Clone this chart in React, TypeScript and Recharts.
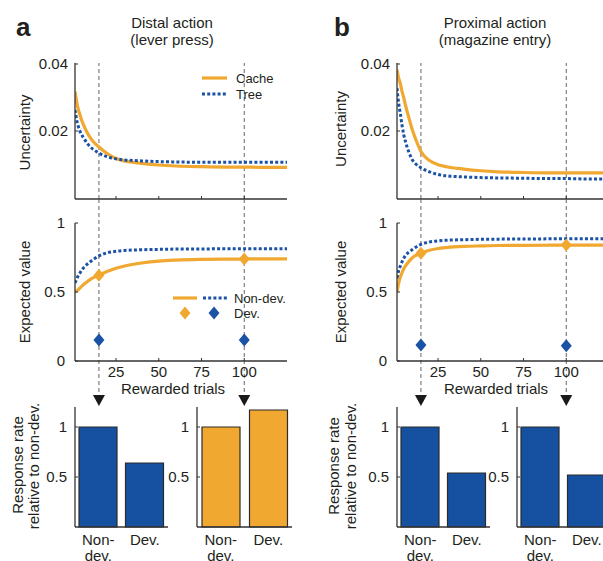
import React from "react";
import {
  Bar,
  BarChart,
  Cell,
  ComposedChart,
  Legend,
  Line,
  ReferenceLine,
  Scatter,
  XAxis,
  YAxis,
} from "recharts";

const ORANGE = "#f0a830";
const BLUE = "#1b52a6";
const BAR_BLUE = "#1650a0";
const INK = "#231f20";
const AXIS = "#333333";
const GUIDE = "#555555";
const FONT = '"Liberation Sans", Arial, Helvetica, sans-serif';

const trials = [1, 2, 3, 4, 5, 6, 8, 10, 12, 15, 20, 25, 30, 40, 50, 60, 75, 90, 100, 110, 125];
const xTicks = [25, 50, 75, 100];
const probeTrials = [15, 100];

// uncertainty
const distalCacheUnc = [0.0316, 0.0285, 0.0262, 0.0246, 0.023, 0.0218, 0.0196, 0.018, 0.0167, 0.0153, 0.0133, 0.0119, 0.0112, 0.0105, 0.01, 0.0097, 0.0095, 0.0094, 0.0094, 0.0093, 0.0093];
const distalTreeUnc = [0.0262, 0.0232, 0.0212, 0.0198, 0.0188, 0.018, 0.0165, 0.0153, 0.0145, 0.0135, 0.0124, 0.0118, 0.0115, 0.0112, 0.011, 0.0109, 0.0108, 0.0108, 0.0108, 0.0108, 0.0108];
const proximalCacheUnc = [0.038, 0.0355, 0.0338, 0.0315, 0.0297, 0.0275, 0.0238, 0.0203, 0.0175, 0.014, 0.0113, 0.0101, 0.0095, 0.0088, 0.0083, 0.008, 0.0078, 0.0077, 0.0077, 0.0077, 0.0077];
const proximalTreeUnc = [0.0326, 0.028, 0.025, 0.0215, 0.0188, 0.0168, 0.0137, 0.0115, 0.0103, 0.0092, 0.008, 0.0072, 0.0068, 0.0065, 0.0063, 0.0062, 0.0061, 0.006, 0.006, 0.0059, 0.0059];

// expected value (non-devalued)
const distalCacheVal = [0.5, 0.508, 0.518, 0.53, 0.542, 0.554, 0.573, 0.592, 0.606, 0.622, 0.65, 0.672, 0.688, 0.71, 0.724, 0.731, 0.736, 0.738, 0.739, 0.74, 0.74];
const distalTreeVal = [0.565, 0.595, 0.62, 0.64, 0.66, 0.675, 0.7, 0.72, 0.738, 0.762, 0.785, 0.795, 0.801, 0.806, 0.809, 0.811, 0.812, 0.813, 0.813, 0.814, 0.814];
const proximalCacheVal = [0.5, 0.565, 0.61, 0.64, 0.67, 0.69, 0.722, 0.748, 0.765, 0.78, 0.802, 0.815, 0.822, 0.83, 0.834, 0.837, 0.838, 0.839, 0.84, 0.84, 0.84];
const proximalTreeVal = [0.6, 0.655, 0.69, 0.72, 0.745, 0.765, 0.79, 0.808, 0.825, 0.845, 0.863, 0.871, 0.875, 0.879, 0.882, 0.883, 0.884, 0.885, 0.885, 0.886, 0.886];

// devalued values at the probe trials
const distalDevCache = [0.622, 0.739];
const distalDevTree = [0.152, 0.152];
const proximalDevCache = [0.78, 0.84];
const proximalDevTree = [0.116, 0.11];

// response rate relative to non-dev.
const barCategories = ["Non-dev.", "Dev."];
const distalEarly = [1, 0.64];
const distalLate = [1, 1.17];
const proximalEarly = [1, 0.54];
const proximalLate = [1, 0.52];

const toPoints = (ys: number[]) => trials.map((t, i) => ({ t, v: ys[i] }));
const toProbes = (ys: number[]) => probeTrials.map((t, i) => ({ t, v: ys[i] }));

const XMarkTick = (withLabel: boolean) => (props: any) => {
  const { x, y, payload } = props;
  return (
    <g>
      <line x1={x} x2={x} y1={y} y2={y - 3} stroke={AXIS} strokeWidth={1} />
      {withLabel && (
        <text x={x} y={y + 15.5} textAnchor="middle" fontSize={15} fill={INK} fontFamily={FONT}>
          {payload.value}
        </text>
      )}
    </g>
  );
};

const YMarkTick = (gap: number, marks = true) => (props: any) => {
  const { x, y, payload } = props;
  return (
    <g>
      {marks && <line x1={x} x2={x + 3} y1={y} y2={y} stroke={AXIS} strokeWidth={1} />}
      <text x={x - gap} y={y} dy="0.36em" textAnchor="end" fontSize={15} fill={INK} fontFamily={FONT}>
        {String(payload.value)}
      </text>
    </g>
  );
};

const BarTick = (props: any) => {
  const { x, y, payload } = props;
  const label: string = payload.value;
  const cut = label.indexOf("-");
  const lines = cut >= 0 ? [label.slice(0, cut + 1), label.slice(cut + 1)] : [label];
  return (
    <text x={x} y={y + 18} textAnchor="middle" fontSize={15} fill={INK} fontFamily={FONT}>
      {lines.map((l, i) => (
        <tspan key={i} x={x} dy={i === 0 ? 0 : 16}>
          {l}
        </tspan>
      ))}
    </text>
  );
};

const Diamond = (color: string) => (props: any) => {
  const { cx, cy } = props;
  return <polygon points={`${cx},${cy - 6.5} ${cx + 5.5},${cy} ${cx},${cy + 6.5} ${cx - 5.5},${cy}`} fill={color} />;
};

// dashed guide that runs from the chart above down to the arrow over the bars
const ExtendedGuide = (props: any) => {
  const { x1, y1, y2 } = props;
  const top = Math.min(y1, y2) - 24;
  const bot = Math.max(y1, y2) + 34;
  return (
    <g>
      <line x1={x1} x2={x1} y1={top} y2={bot} stroke={GUIDE} strokeDasharray="4 3" strokeWidth={0.9} />
      <polygon points={`${x1 - 6},${bot} ${x1 + 6},${bot} ${x1},${bot + 11}`} fill="#1a1a1a" />
    </g>
  );
};

const legendText = { fontSize: 13, fill: INK, fontFamily: FONT } as const;

const CacheTreeLegend = () => (
  <svg width={80} height={32}>
    <line x1={2} x2={27} y1={8} y2={8} stroke={ORANGE} strokeWidth={3.2} />
    <line x1={2} x2={27} y1={24} y2={24} stroke={BLUE} strokeWidth={3} strokeDasharray="3 2.2" />
    <text x={36} y={12.5} {...legendText}>Cache</text>
    <text x={36} y={28.5} {...legendText}>Tree</text>
  </svg>
);

const DevLegend = () => (
  <svg width={130} height={32}>
    <line x1={3} x2={27} y1={8} y2={8} stroke={ORANGE} strokeWidth={3.2} />
    <line x1={33} x2={57} y1={8} y2={8} stroke={BLUE} strokeWidth={3} strokeDasharray="3 2.2" />
    <polygon points="15,16.5 20.5,23 15,29.5 9.5,23" fill={ORANGE} />
    <polygon points="44,16.5 49.5,23 44,29.5 38.5,23" fill={BLUE} />
    <text x={64} y={12.5} {...legendText}>Non-dev.</text>
    <text x={64} y={27.5} {...legendText}>Dev.</text>
  </svg>
);

const axisLine = { stroke: AXIS, strokeWidth: 1.3 };

function UncertaintyChart({ left, axisWidth, width, right, cache, tree, legend }: any) {
  return (
    <div style={{ position: "absolute", left, top: 55 }}>
      <ComposedChart width={width} height={150} margin={{ top: 8, right, bottom: 0, left: 0 }}>
        <XAxis type="number" dataKey="t" domain={[1, 125]} ticks={xTicks} height={6} tickSize={0} tickMargin={0} tickLine={false} tick={XMarkTick(false)} axisLine={axisLine} allowDataOverflow />
        <YAxis type="number" domain={[0, 0.04]} ticks={[0, 0.02, 0.04]} width={axisWidth} tickSize={0} tickMargin={0} tickLine={false} tick={YMarkTick(7)} axisLine={axisLine} />
        {probeTrials.map((p) => (
          <ReferenceLine key={p} x={p} stroke={GUIDE} strokeDasharray="4 3" strokeWidth={0.9} />
        ))}
        <Line data={toPoints(cache)} dataKey="v" stroke={ORANGE} strokeWidth={3.2} dot={false} isAnimationActive={false} type="monotone" />
        <Line data={toPoints(tree)} dataKey="v" stroke={BLUE} strokeWidth={3} strokeDasharray="3 2.2" dot={false} isAnimationActive={false} type="monotone" />
        {legend && (
          <Legend layout="vertical" align="center" verticalAlign="middle" content={CacheTreeLegend} wrapperStyle={{ left: 200, top: 15, width: 80, height: 32 }} />
        )}
      </ComposedChart>
    </div>
  );
}

function ValueChart({ left, axisWidth, width, right, cache, tree, devCache, devTree, legend }: any) {
  return (
    <div style={{ position: "absolute", left, top: 199 }}>
      <ComposedChart width={width} height={211} margin={{ top: 24, right, bottom: 0, left: 0 }}>
        <XAxis type="number" dataKey="t" domain={[1, 125]} ticks={xTicks} height={49} tickSize={0} tickMargin={0} tickLine={false} tick={XMarkTick(true)} axisLine={axisLine} allowDataOverflow />
        <YAxis type="number" domain={[0, 1]} ticks={[0, 0.5, 1]} width={axisWidth} tickSize={0} tickMargin={0} tickLine={false} tick={YMarkTick(10)} axisLine={axisLine} />
        {probeTrials.map((p) => (
          <ReferenceLine key={p} x={p} shape={ExtendedGuide} />
        ))}
        <Line data={toPoints(cache)} dataKey="v" stroke={ORANGE} strokeWidth={3.2} dot={false} isAnimationActive={false} type="monotone" />
        <Line data={toPoints(tree)} dataKey="v" stroke={BLUE} strokeWidth={3} strokeDasharray="3 2.2" dot={false} isAnimationActive={false} type="monotone" />
        <Scatter data={toProbes(devCache)} dataKey="v" shape={Diamond(ORANGE)} isAnimationActive={false} />
        <Scatter data={toProbes(devTree)} dataKey="v" shape={Diamond(BLUE)} isAnimationActive={false} />
        {legend && (
          <Legend layout="vertical" align="center" verticalAlign="middle" content={DevLegend} wrapperStyle={{ left: 170, top: 91, width: 130, height: 32 }} />
        )}
      </ComposedChart>
    </div>
  );
}

function RateChart({ left, width, right, values, color }: any) {
  const data = barCategories.map((name, i) => ({ name, rate: values[i] }));
  return (
    <div style={{ position: "absolute", left, top: 400 }}>
      <BarChart width={width} height={161} data={data} margin={{ top: 7, right, bottom: 0, left: 0 }}>
        <XAxis dataKey="name" height={34} tickSize={0} tickMargin={0} tickLine={false} tick={BarTick} axisLine={axisLine} interval={0} />
        <YAxis type="number" domain={[0, 1.2]} ticks={[0.5, 1]} width={77} tickSize={0} tickMargin={0} tickLine={false} tick={YMarkTick(8)} axisLine={axisLine} />
        <Bar dataKey="rate" barSize={38} stroke="#2b2b2b" strokeWidth={1.2} isAnimationActive={false}>
          {data.map((d) => (
            <Cell key={d.name} fill={color} />
          ))}
        </Bar>
      </BarChart>
    </div>
  );
}

const labelStyle = { fontSize: 15, fill: INK, fontFamily: FONT } as const;

export default function App() {
  return (
    <div style={{ position: "absolute", left: 0, top: 0, width: 603, height: 561, overflow: "hidden", background: "#fff" }}>
      <UncertaintyChart left={0} axisWidth={75} width={300} right={13} cache={distalCacheUnc} tree={distalTreeUnc} legend />
      <UncertaintyChart left={320} axisWidth={77} width={300} right={11} cache={proximalCacheUnc} tree={proximalTreeUnc} />
      <ValueChart left={0} axisWidth={75} width={300} right={13} cache={distalCacheVal} tree={distalTreeVal} devCache={distalDevCache} devTree={distalDevTree} legend />
      <ValueChart left={320} axisWidth={77} width={300} right={11} cache={proximalCacheVal} tree={proximalTreeVal} devCache={proximalDevCache} devTree={proximalDevTree} />
      <RateChart left={-2} width={177} right={7} values={distalEarly} color={BAR_BLUE} />
      <RateChart left={120} width={180} right={8} values={distalLate} color={ORANGE} />
      <RateChart left={320} width={175} right={5} values={proximalEarly} color={BAR_BLUE} />
      <RateChart left={440} width={180} right={10} values={proximalLate} color={BAR_BLUE} />
      <svg width={603} height={561} style={{ position: "absolute", left: 0, top: 0, pointerEvents: "none" }}>
        <text x={16} y={36} fontSize={26} fontWeight="bold" fill={INK} fontFamily={FONT}>a</text>
        <text x={334} y={36} fontSize={26} fontWeight="bold" fill={INK} fontFamily={FONT}>b</text>
        <text x={172} y={28} textAnchor="middle" {...labelStyle}>Distal action</text>
        <text x={172} y={45} textAnchor="middle" {...labelStyle}>(lever press)</text>
        <text x={495} y={28} textAnchor="middle" {...labelStyle}>Proximal action</text>
        <text x={495} y={45} textAnchor="middle" {...labelStyle}>(magazine entry)</text>
        <text transform="translate(29.5,132.5) rotate(-90)" textAnchor="middle" {...labelStyle}>Uncertainty</text>
        <text transform="translate(346,129) rotate(-90)" textAnchor="middle" {...labelStyle}>Uncertainty</text>
        <text transform="translate(30,292) rotate(-90)" textAnchor="middle" {...labelStyle}>Expected value</text>
        <text transform="translate(346,292) rotate(-90)" textAnchor="middle" {...labelStyle}>Expected value</text>
        <text x={173} y={394} textAnchor="middle" {...labelStyle}>Rewarded trials</text>
        <text x={496} y={394} textAnchor="middle" {...labelStyle}>Rewarded trials</text>
        <text transform="translate(22.5,465) rotate(-90)" textAnchor="middle" {...labelStyle}>Response rate</text>
        <text transform="translate(38.7,466) rotate(-90)" textAnchor="middle" {...labelStyle}>relative to non-dev.</text>
        <text transform="translate(339,466) rotate(-90)" textAnchor="middle" {...labelStyle}>Response rate</text>
        <text transform="translate(355.5,466) rotate(-90)" textAnchor="middle" {...labelStyle}>relative to non-dev.</text>
      </svg>
    </div>
  );
}
